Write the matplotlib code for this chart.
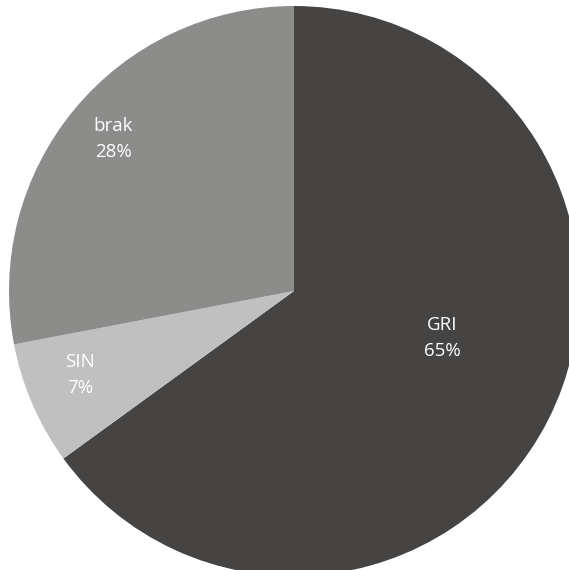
import matplotlib.pyplot as plt

labels = ["GRI", "SIN", "brak"]
shares = [65, 7, 28]
colors = ["#454443", "#c0c0c0", "#8c8c8b"]

# label offsets from the centre, in units of the radius
label_pos = [(0.52, -0.165), (-0.75, -0.295), (-0.635, 0.533)]

plt.rcParams["font.family"] = ["Open Sans", "DejaVu Sans"]

fig = plt.figure(figsize=(5.69, 5.70), dpi=100)
ax = fig.add_axes([0, 0, 1, 1])

cx, cy, r = 294, 279, 285
ax.pie(
    shares,
    colors=colors,
    startangle=90,
    counterclock=False,
    center=(cx, cy),
    radius=r,
    frame=True,
)
ax.set_xlim(0, 569)
ax.set_ylim(0, 570)
ax.set_aspect("equal")
ax.axis("off")

for lab, val, (dx, dy) in zip(labels, shares, label_pos):
    ax.text(
        cx + dx * r,
        cy + dy * r,
        f"{lab}\n{val}%",
        ha="center",
        va="center",
        color="white",
        fontsize=13.5,
        linespacing=1.6,
        multialignment="center",
    )

fig.savefig("out.png", dpi=100, facecolor="white")
